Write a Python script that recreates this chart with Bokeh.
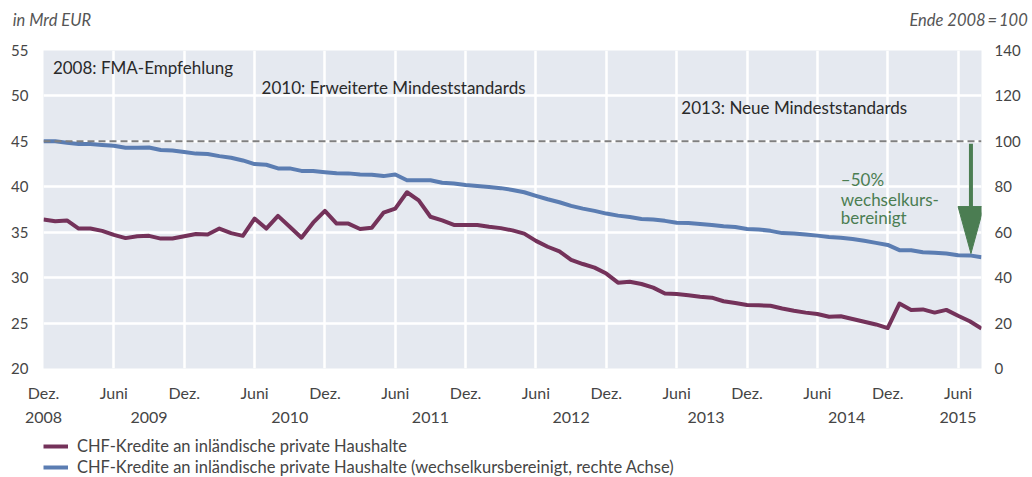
from bokeh.plotting import figure
from bokeh.layouts import column
from bokeh.models import Range1d, LinearAxis, FixedTicker, Span, Label, Legend, LegendItem
from bokeh.embed import file_html
from bokeh.resources import INLINE

# months since Dec 2008 (0 = Dez. 2008)
months = list(range(81))

chf_mrd = [36.4, 36.2, 36.3, 35.4, 35.4, 35.15, 34.7, 34.35, 34.55, 34.6,
           34.3, 34.3, 34.55, 34.8, 34.75, 35.4, 34.9, 34.6, 36.5, 35.4,
           36.8, 35.6, 34.4, 36.05, 37.35, 35.95, 35.95, 35.35, 35.5, 37.15,
           37.6, 39.4, 38.5, 36.7, 36.3, 35.8, 35.8, 35.8, 35.6, 35.45,
           35.2, 34.85, 34.05, 33.4, 32.9, 31.95, 31.5, 31.1, 30.45, 29.45,
           29.55, 29.3, 28.9, 28.25, 28.2, 28.05, 27.9, 27.8, 27.4, 27.2,
           27.0, 26.95, 26.9, 26.6, 26.35, 26.15, 26.0, 25.7, 25.75, 25.45,
           25.15, 24.85, 24.45, 27.15, 26.45, 26.5, 26.15, 26.45, 25.8, 25.2,
           24.4]

chf_index = [100.0, 100.0, 99.4, 98.8, 98.8, 98.4, 98.1, 97.2, 97.2, 97.3,
             96.2, 96.0, 95.3, 94.6, 94.4, 93.5, 92.8, 91.6, 90.0, 89.7,
             88.1, 88.1, 87.0, 86.9, 86.4, 86.0, 85.9, 85.4, 85.3, 84.7,
             85.4, 82.9, 82.9, 82.9, 81.8, 81.4, 80.8, 80.35, 79.9, 79.4,
             78.6, 77.6, 76.0, 74.5, 73.2, 71.6, 70.4, 69.4, 68.2, 67.3,
             66.7, 65.8, 65.6, 65.0, 64.2, 64.1, 63.6, 63.2, 62.6, 62.3,
             61.4, 61.2, 60.6, 59.6, 59.4, 59.0, 58.5, 57.9, 57.6, 57.0,
             56.2, 55.3, 54.4, 52.1, 52.1, 51.2, 51.0, 50.6, 49.9, 49.8,
             49.0]

series_names = ["CHF-Kredite an inländische private Haushalte",
                "CHF-Kredite an inländische private Haushalte (wechselkursbereinigt, rechte Achse)"]

month_ticks = list(range(0, 79, 6))
month_labels = ["Dez." if i % 2 == 0 else "Juni" for i in range(len(month_ticks))]
year_ticks = [0, 9, 21, 33, 45, 56.5, 68.5, 78]
year_labels = ["2008", "2009", "2010", "2011", "2012", "2013", "2014", "2015"]
left_ticks = [20, 25, 30, 35, 40, 45, 50, 55]
right_ticks = [0, 20, 40, 60, 80, 100, 120, 140]

header_ticks = [0.72, 78.9]
header_labels = ["in Mrd EUR", "Ende 2008\u2009=\u2009100"]

events = ["2008: FMA-Empfehlung", "2010: Erweiterte Mindeststandards", "2013: Neue Mindeststandards"]
event_x = [0.8, 18.6, 54.4]
event_y = [53.1, 50.9, 48.7]

note_lines = ["\u201350%", "wechselkurs-", "bereinigt"]
note_x = 68.0
note_y = [40.8, 38.6, 36.6]

arrow_x = 79.1
arrow_top = 99.0
arrow_tip = 50.6
head_len = 20.7
head_half = 1.1

FONT = "Lato"
PURPLE = "#74325a"
BLUE = "#5b7db2"
GREEN = "#4b7d52"
TICK = "#454545"
BG = "#e5e9f0"

p = figure(width=1032, height=428, output_backend="svg", toolbar_location=None,
           x_range=Range1d(0, 80), y_range=Range1d(20, 55),
           min_border_left=43, min_border_right=51, min_border_top=50, min_border_bottom=60,
           background_fill_color=BG, border_fill_color="white")
p.outline_line_color = None
p.extra_y_ranges = {"right": Range1d(0, 140)}

p.xaxis.visible = False
p.yaxis.visible = False


def style_axis(ax, standoff, size="15px", style="normal", color=TICK):
    ax.axis_line_color = None
    ax.major_tick_line_color = None
    ax.minor_tick_line_color = None
    ax.major_tick_out = 0
    ax.major_tick_in = 0
    ax.minor_tick_out = 0
    ax.minor_tick_in = 0
    ax.major_label_text_font = FONT
    ax.major_label_text_font_size = size
    ax.major_label_text_font_style = style
    ax.major_label_text_color = color
    ax.major_label_standoff = standoff


yl = LinearAxis(ticker=FixedTicker(ticks=left_ticks))
style_axis(yl, 15)
p.add_layout(yl, "left")

yr = LinearAxis(y_range_name="right", ticker=FixedTicker(ticks=right_ticks))
style_axis(yr, 13)
p.add_layout(yr, "right")

xh = LinearAxis(ticker=FixedTicker(ticks=header_ticks),
                major_label_overrides={t: l for t, l in zip(header_ticks, header_labels)})
style_axis(xh, 21, size="16.5px", style="italic", color="#555555")
p.add_layout(xh, "above")

xm = LinearAxis(ticker=FixedTicker(ticks=month_ticks),
                major_label_overrides={t: l for t, l in zip(month_ticks, month_labels)})
style_axis(xm, 14, size="16px")
p.add_layout(xm, "below")

xy = LinearAxis(ticker=FixedTicker(ticks=year_ticks),
                major_label_overrides={t: l for t, l in zip(year_ticks, year_labels)})
style_axis(xy, 7, size="16px")
p.add_layout(xy, "below")

p.xgrid.ticker = FixedTicker(ticks=month_ticks)
p.ygrid.ticker = FixedTicker(ticks=left_ticks)
for g in (p.xgrid[0], p.ygrid[0]):
    g.grid_line_color = "white"
    g.grid_line_width = 2.5

p.line(months, chf_mrd, line_color=PURPLE, line_width=4, line_join="round")
p.line(months, chf_index, line_color=BLUE, line_width=4, line_join="round", y_range_name="right")

p.add_layout(Span(location=45, dimension="width", line_color="#7f7f7f",
                  line_width=2, line_dash="7 4"))

p.segment(x0=[arrow_x], y0=[arrow_top], x1=[arrow_x], y1=[arrow_tip + head_len],
          line_color=GREEN, line_width=4, y_range_name="right")
p.patch(x=[arrow_x - head_half, arrow_x + head_half, arrow_x],
        y=[arrow_tip + head_len, arrow_tip + head_len, arrow_tip],
        fill_color=GREEN, line_color=GREEN, y_range_name="right")

for t, x, y in zip(events, event_x, event_y):
    p.add_layout(Label(x=x, y=y, text=t, text_font=FONT, text_font_size="17px",
                       text_color="#2a2a2a", text_baseline="middle"))

for t, y in zip(note_lines, note_y):
    p.add_layout(Label(x=note_x, y=y, text=t, text_font=FONT, text_font_size="17px",
                       text_color=GREEN, text_baseline="middle"))

# legend strip below the chart (series drawn out of view, only legend visible)
lg = figure(width=1032, height=49, output_backend="svg", toolbar_location=None,
            x_axis_type=None, y_axis_type=None,
            x_range=Range1d(0, 80), y_range=Range1d(1000, 1001),
            min_border_left=0, min_border_right=0, min_border_top=0, min_border_bottom=0,
            background_fill_color="white", border_fill_color="white")
lg.outline_line_color = None
lg.grid.visible = False
l1 = lg.line(months, chf_mrd, line_color=PURPLE, line_width=4)
l2 = lg.line(months, chf_index, line_color=BLUE, line_width=4)

legend = Legend(items=[LegendItem(label=series_names[0], renderers=[l1]),
                       LegendItem(label=series_names[1], renderers=[l2])],
                location=(0, 0), orientation="vertical")
legend.background_fill_alpha = 0
legend.border_line_color = None
legend.padding = 0
legend.margin = 0
legend.spacing = 1
legend.glyph_width = 25
legend.glyph_height = 20
legend.label_height = 20
legend.label_standoff = 9
legend.label_text_font = FONT
legend.label_text_font_size = "16.5px"
legend.label_text_color = TICK
lg.add_layout(legend)

layout = column(p, lg, spacing=0)
open("out.html", "w").write(file_html(layout, INLINE))
